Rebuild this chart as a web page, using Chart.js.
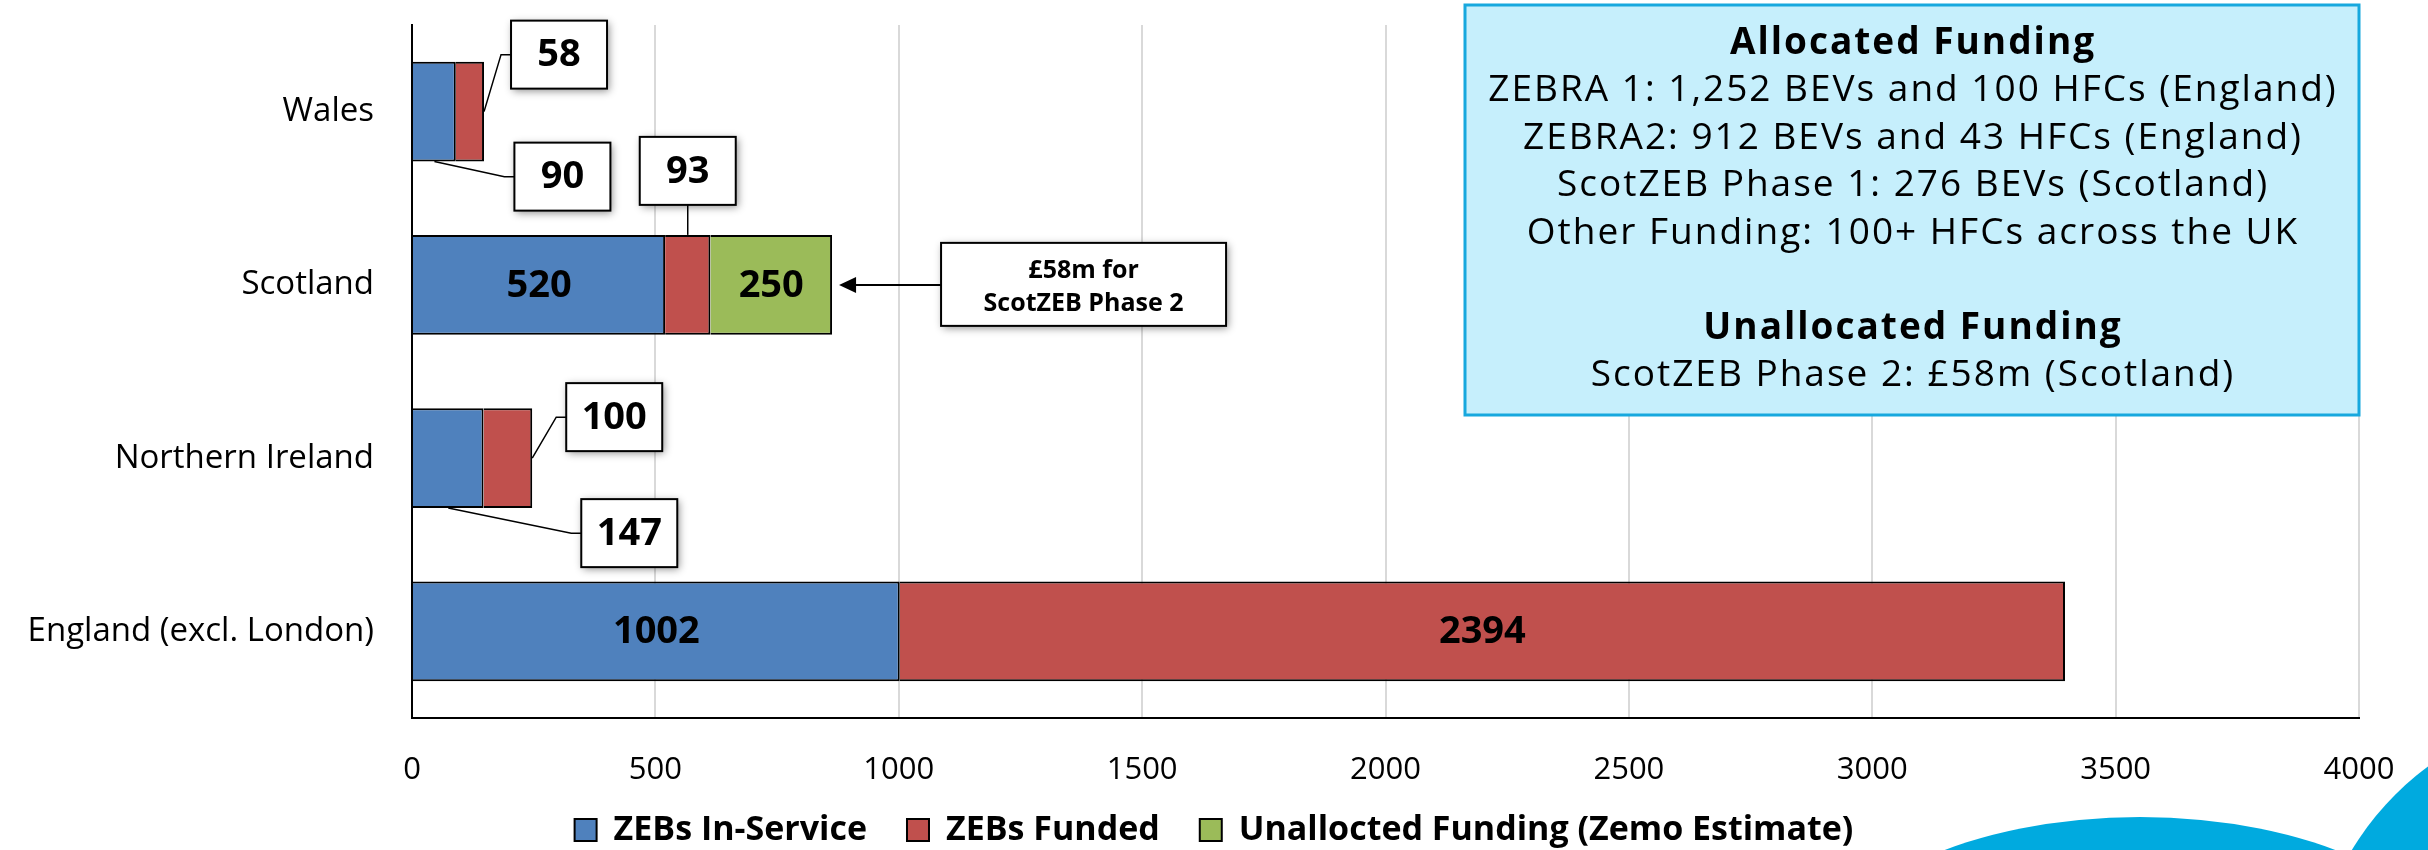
<!DOCTYPE html>
<html><head><meta charset="utf-8">
<script src="https://cdn.jsdelivr.net/npm/chart.js@4.4.0/dist/chart.umd.min.js"></script>
<style>html,body{margin:0;padding:0;background:#fff;overflow:hidden}#wrap{width:2428px;height:850px;position:relative}</style>
</head><body><div id="wrap"><canvas id="c" width="2428" height="850"></canvas></div>
<script>
// ---------- data ----------
const categories = ['Wales', 'Scotland', 'Northern Ireland', 'England (excl. London)'];
const inService = [90, 520, 147, 1002];
const funded = [58, 93, 100, 2394];
const unallocated = [null, 250, null, null];
const seriesNames = ['ZEBs In-Service', 'ZEBs Funded', 'Unallocted Funding (Zemo Estimate)'];
const xTicks = [0, 500, 1000, 1500, 2000, 2500, 3000, 3500, 4000];
const infoTitle1 = 'Allocated Funding';
const infoLines1 = ['ZEBRA 1: 1,252 BEVs and 100 HFCs (England)', 'ZEBRA2: 912 BEVs and 43 HFCs (England)', 'ScotZEB Phase 1: 276 BEVs (Scotland)', 'Other Funding: 100+ HFCs across the UK'];
const infoTitle2 = 'Unallocated Funding';
const infoLines2 = ['ScotZEB Phase 2: £58m (Scotland)'];
const noteLines = ['£58m for', 'ScotZEB Phase 2'];

// ---------- styles ----------
const FONT = '"Open Sans", "DejaVu Sans", sans-serif';
const colors = ['#4F81BD', '#C0504D', '#9BBB59'];
// callout label placement (offsets in px relative to bar segment)
const callouts = [
  {ds: 1, i: 0, from: 'end', dx: 75, dy: -57},
  {ds: 0, i: 0, from: 'bottom', dx: 128, dy: 65},
  {ds: 1, i: 1, from: 'top', dx: 0, dy: -114},
  {ds: 1, i: 2, from: 'end', dx: 82, dy: -41},
  {ds: 0, i: 2, from: 'bottom', dx: 181, dy: 75}
];
const BOX_W = 96, BOX_H = 68;

function shadowBox(ctx, x, y, w, h) {
  ctx.save();
  ctx.shadowColor = 'rgba(0,0,0,0.45)';
  ctx.shadowBlur = 8; ctx.shadowOffsetX = 2; ctx.shadowOffsetY = 2;
  ctx.fillStyle = '#fff';
  ctx.fillRect(x, y, w, h);
  ctx.restore();
  ctx.save();
  ctx.lineWidth = 2; ctx.strokeStyle = '#000';
  ctx.strokeRect(x, y, w, h);
  ctx.restore();
}

const overlay = {
  id: 'overlay',
  afterDatasetsDraw(chart) {
    const ctx = chart.ctx;
    ctx.save();
    ctx.textAlign = 'center'; ctx.textBaseline = 'middle';
    chart.data.datasets.forEach((ds, d) => {
      const meta = chart.getDatasetMeta(d);
      meta.data.forEach((bar, i) => {
        const v = ds.data[i];
        if (v === null || v === undefined) return;
        const p = bar.getProps(['x', 'y', 'base', 'height'], true);
        const cx = (p.x + p.base) / 2;
        const c = callouts.find(o => o.ds === d && o.i === i);
        ctx.font = 'bold 38px ' + FONT;
        ctx.fillStyle = '#000';
        if (!c) { ctx.fillText(String(v), cx, p.y + 1); return; }
        const refX = c.from === 'end' ? p.x : cx;
        const bx = refX + c.dx, by = p.y + c.dy;
        const left = bx - BOX_W / 2;
        ctx.beginPath(); ctx.lineWidth = 1.5; ctx.strokeStyle = '#000';
        if (c.from === 'top') {
          ctx.moveTo(cx, p.y - p.height / 2); ctx.lineTo(cx, by + BOX_H / 2);
        } else {
          const sy = c.from === 'end' ? p.y : p.y + p.height / 2;
          ctx.moveTo(c.from === 'end' ? p.x : cx, sy);
          ctx.lineTo(left - 10, by); ctx.lineTo(left, by);
        }
        ctx.stroke();
        shadowBox(ctx, left, by - BOX_H / 2, BOX_W, BOX_H);
        ctx.fillStyle = '#000';
        ctx.fillText(String(v), bx, by + 1);
      });
    });
    ctx.restore();
  },
  afterDraw(chart) {
    const ctx = chart.ctx;
    const area = chart.chartArea;
    // info box
    ctx.save();
    const ibL = area.right - 894, ibR = area.right, ibT = 5, ibB = 415;
    ctx.fillStyle = '#C6EFFC';
    ctx.fillRect(ibL, ibT, ibR - ibL, ibB - ibT);
    ctx.lineWidth = 3; ctx.strokeStyle = '#17A8DE';
    ctx.strokeRect(ibL, ibT, ibR - ibL, ibB - ibT);
    ctx.fillStyle = '#000'; ctx.textAlign = 'center'; ctx.textBaseline = 'middle';
    ctx.letterSpacing = '2px';
    const icx = (ibL + ibR) / 2 + 1;
    const lh = 47.5;
    let y = 43;
    ctx.font = 'bold 37px ' + FONT; ctx.fillText(infoTitle1, icx, y);
    ctx.font = '37px ' + FONT;
    infoLines1.forEach(t => { y += lh; ctx.fillText(t, icx, y); });
    y += lh * 2;
    ctx.font = 'bold 37px ' + FONT; ctx.fillText(infoTitle2, icx, y);
    ctx.font = '37px ' + FONT;
    infoLines2.forEach(t => { y += lh; ctx.fillText(t, icx, y); });
    ctx.restore();

    // arrow note for unallocated funding
    ctx.save();
    const meta = chart.getDatasetMeta(2);
    const gb = meta.data[1].getProps(['x', 'y'], true);
    const nL = gb.x + 109, nW = 285, nH = 83, nT = gb.y - 42;
    ctx.beginPath(); ctx.lineWidth = 2; ctx.strokeStyle = '#000';
    ctx.moveTo(nL, gb.y); ctx.lineTo(gb.x + 22, gb.y); ctx.stroke();
    ctx.beginPath(); ctx.fillStyle = '#000';
    ctx.moveTo(gb.x + 7, gb.y); ctx.lineTo(gb.x + 24, gb.y - 8); ctx.lineTo(gb.x + 24, gb.y + 8); ctx.closePath(); ctx.fill();
    shadowBox(ctx, nL, nT, nW, nH);
    ctx.fillStyle = '#000'; ctx.textAlign = 'center'; ctx.textBaseline = 'middle';
    ctx.font = 'bold 25px ' + FONT;
    ctx.fillText(noteLines[0], nL + nW / 2, nT + 28);
    ctx.fillText(noteLines[1], nL + nW / 2, nT + 61);
    ctx.restore();

    // decorative shapes bottom-right
    ctx.save();
    ctx.fillStyle = '#00AADF';
    ctx.beginPath(); ctx.ellipse(2140, 967, 312, 150, 0, 0, Math.PI * 2); ctx.fill();
    ctx.beginPath(); ctx.arc(2600, 1000, 290, 0, Math.PI * 2); ctx.fill();
    ctx.restore();
  }
};

const ds = (label, data, k) => ({
  label, data, backgroundColor: colors[k], borderColor: '#000', borderWidth: 2,
  categoryPercentage: 1, barPercentage: 0.577
});

new Chart(document.getElementById('c'), {
  type: 'bar',
  data: {
    labels: categories,
    datasets: [ds(seriesNames[0], inService, 0), ds(seriesNames[1], funded, 1), ds(seriesNames[2], unallocated, 2)]
  },
  options: {
    indexAxis: 'y', responsive: false, animation: false, devicePixelRatio: 1,
    layout: {autoPadding: false, padding: {left: 0, right: 0, top: 25, bottom: -7}},
    plugins: {
      tooltip: {enabled: false},
      legend: {
        position: 'bottom',
        labels: {font: {family: FONT, size: 34, weight: 'bold'}, color: '#000', boxWidth: 22, boxHeight: 22, padding: 40}
      }
    },
    scales: {
      x: {
        stacked: true, min: 0, max: 4000,
        afterBuildTicks: s => { s.ticks = xTicks.map(v => ({value: v})); },
        afterFit: s => { s.height = 55; s.paddingLeft = 0; s.paddingRight = 69; s._computeLabelArea = () => undefined; },
        ticks: {font: {family: FONT, size: 31}, color: '#000', padding: 34, callback: v => String(v), maxRotation: 0, autoSkip: false},
        grid: {color: '#D9D9D9', lineWidth: 2, drawTicks: false},
        border: {color: '#000', width: 2}
      },
      y: {
        stacked: true,
        afterFit: s => { s.width = 412; s.paddingTop = 0; s.paddingBottom = 0; },
        ticks: {font: {family: FONT, size: 33}, color: '#000', padding: 38},
        grid: {display: false, drawTicks: false},
        border: {color: '#000', width: 2}
      }
    }
  },
  plugins: [overlay]
});
</script></body></html>
